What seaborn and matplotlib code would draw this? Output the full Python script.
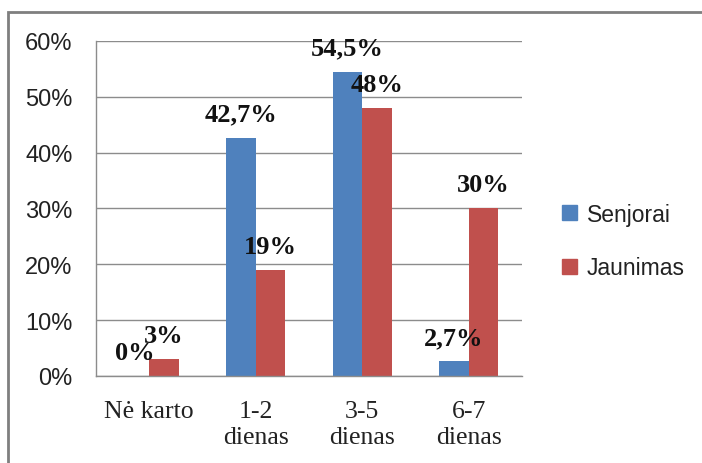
import matplotlib
matplotlib.use("Agg")
import matplotlib.pyplot as plt
from matplotlib.patches import Rectangle
import seaborn as sns
import pandas as pd

# data
categories = ["Nė karto", "1-2\ndienas", "3-5\ndienas", "6-7\ndienas"]
series_names = ["Senjorai", "Jaunimas"]
senjorai = [0, 42.7, 54.5, 2.7]
jaunimas = [3, 19, 48, 30]
y_ticks = [0, 10, 20, 30, 40, 50, 60]

colors = {"Senjorai": "#4F81BD", "Jaunimas": "#C0504D"}
grid_color = "#8C8C8C"
sans = ["Liberation Sans", "DejaVu Sans"]

df = pd.DataFrame({
    "kategorija": categories * 2,
    "grupe": [series_names[0]] * len(categories) + [series_names[1]] * len(categories),
    "reiksme": senjorai + jaunimas,
})

sns.set_theme(style="white")
# serif by default (category + data labels), sans set explicitly where needed
plt.rcParams["font.family"] = ["Liberation Serif", "DejaVu Serif"]

fig = plt.figure(figsize=(7.02, 4.64), dpi=100)
ax = fig.add_axes([0.1368, 0.1875, 0.6068, 0.722])

sns.barplot(data=df, x="kategorija", y="reiksme", hue="grupe",
            palette=colors, saturation=1, width=0.55, gap=0,
            edgecolor="none", ax=ax, legend=False)

ax.set_ylim(0, 60)
ax.set_yticks(y_ticks)
ax.set_yticklabels([f"{t}%" for t in y_ticks], fontsize=17, color="#222222",
                   family=sans)
ax.set_xlim(-0.5, len(categories) - 0.5)
ax.set_xticks(range(len(categories)))
ax.set_xticklabels(categories, fontsize=18.5, color="#222222", linespacing=1.25)
ax.tick_params(axis="y", length=0, pad=17)
ax.tick_params(axis="x", length=0, pad=17)
ax.set_xlabel("")
ax.set_ylabel("")

ax.yaxis.grid(True, color=grid_color, linewidth=1)
ax.set_axisbelow(True)
for side in ["top", "right"]:
    ax.spines[side].set_visible(False)
for side in ["left", "bottom"]:
    ax.spines[side].set_color(grid_color)
    ax.spines[side].set_linewidth(1)

# data labels above each bar
for container in ax.containers:
    for bar in container:
        v = bar.get_height()
        txt = f"{v:g}".replace(".", ",") + "%"
        ax.annotate(txt, (bar.get_x() + bar.get_width() / 2, v),
                    xytext=(0, 17), textcoords="offset pixels",
                    ha="center", va="baseline", fontsize=19, fontweight="bold",
                    color="#111111", annotation_clip=False)

handles = [Rectangle((0, 0), 1, 1, color=colors[n]) for n in series_names]
leg = ax.legend(handles, series_names, loc="center left",
                bbox_to_anchor=(1.045, 0.403), frameon=False,
                prop={"family": sans, "size": 16.5},
                handlelength=0.65, handleheight=0.65, handletextpad=0.45,
                labelspacing=1.35)
for t in leg.get_texts():
    t.set_color("#222222")

# outer chart border like the spreadsheet frame
fig.patches.append(Rectangle((8 / 702, -0.05), 1.2, 0.05 + 1 - 13 / 464,
                             transform=fig.transFigure, fill=False,
                             edgecolor="#7F7F7F", linewidth=2))

fig.savefig("out.png", dpi=100)
